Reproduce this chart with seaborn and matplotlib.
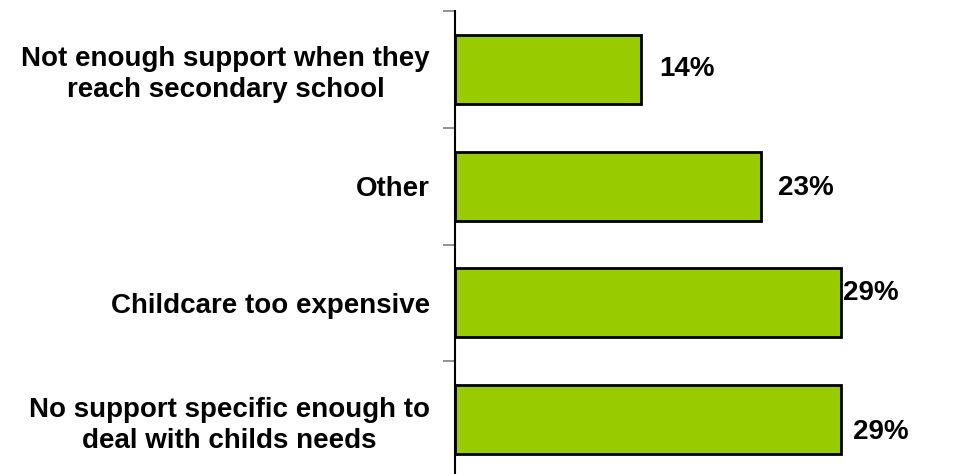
import matplotlib
matplotlib.use('Agg')
from matplotlib import pyplot as plt
import seaborn as sns
import pandas as pd

categories = ['Not enough support when they\nreach secondary school',
              'Other',
              'Childcare too expensive',
              'No support specific enough to\ndeal with childs needs']
values = [14, 23, 29, 29]
value_labels = ['14%', '23%', '29%', '29%']
# small nudges (points) so the labels sit where the original puts them
label_offsets = [(13, 0), (12, -1), (2, 7), (9, -9)]

sns.set_style('white')
plt.rcParams['font.family'] = ['Liberation Sans', 'DejaVu Sans']

df = pd.DataFrame({'reason': categories, 'share': values})

fig = plt.figure(figsize=(9.73, 4.74), dpi=100)
ax = fig.add_axes([455 / 973, -4 / 474, 518 / 973, 467 / 474])

sns.barplot(data=df, x='share', y='reason', orient='h', color='#99CC00',
            edgecolor='black', linewidth=2, width=0.59, saturation=1, ax=ax)

ax.set_xlim(0, 38.95)
ax.set_ylim(3.5, -0.5)
ax.set_xlabel('')
ax.set_ylabel('')
ax.set_xticks([])

# category labels on the bar centres, tick marks on the boundaries
ax.tick_params(axis='y', which='major', length=0, pad=18, labelcolor='black')
ax.set_yticks(range(len(categories)), categories, fontsize=20, fontweight='bold')
for lab in ax.get_yticklabels():
    lab.set_multialignment('center')
    lab.set_linespacing(1.25)
ax.set_yticks([i - 0.5 for i in range(len(categories) + 1)], minor=True)
ax.tick_params(axis='y', which='minor', length=9, width=1.2, color='#808080', left=True)

for side in ['top', 'right', 'bottom']:
    ax.spines[side].set_visible(False)
ax.spines['left'].set_color('black')
ax.spines['left'].set_linewidth(1.5)

for i, (v, txt, off) in enumerate(zip(values, value_labels, label_offsets)):
    ax.annotate(txt, xy=(v, i), xytext=off, textcoords='offset points',
                ha='left', va='center', fontsize=20, fontweight='bold', color='black')

plt.savefig('out.png', dpi=100)
